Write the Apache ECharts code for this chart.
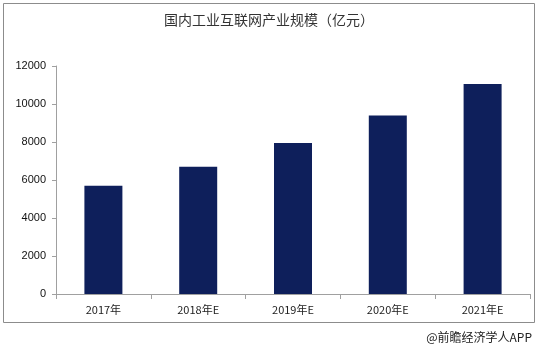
<!DOCTYPE html>
<html>
<head>
<meta charset="utf-8">
<script src="https://cdn.jsdelivr.net/npm/echarts@6/dist/echarts.min.js"></script>
<style>
  html, body { margin: 0; padding: 0; background: #fff; }
  #chart { width: 538px; height: 350px; }
</style>
</head>
<body>
<div id="chart"></div>
<script>
// 国内工业互联网产业规模（亿元）
const categories = ['2017年', '2018年E', '2019年E', '2020年E', '2021年E'];
const scaleValues = [5700, 6700, 7950, 9400, 11050];
const yTicks = { min: 0, max: 12000, interval: 2000 };

const chart = echarts.init(document.getElementById('chart'));
chart.setOption({
  backgroundColor: '#fff',
  animation: false,
  title: {
    text: '国内工业互联网产业规模（亿元）',
    left: 'center',
    top: 8,
    textStyle: {
      fontFamily: 'Noto Sans CJK SC',
      fontSize: 14,
      fontWeight: 'normal',
      color: '#333'
    }
  },
  graphic: [
    {
      type: 'rect',
      shape: { x: 3.5, y: 3.5, width: 531, height: 319 },
      style: { fill: 'none', stroke: '#8c8c8c', lineWidth: 1 },
      silent: true
    },
    {
      type: 'text',
      right: 6,
      top: 331,
      style: {
        text: '@前瞻经济学人APP',
        fontFamily: 'Noto Sans CJK SC',
        fontSize: 12,
        fill: '#222'
      }
    }
  ],
  grid: { left: 56, right: 8, top: 66, bottom: 56, containLabel: false },
  xAxis: {
    type: 'category',
    data: categories,
    axisLine: { lineStyle: { color: '#a0a0a0', width: 1 } },
    axisTick: { show: true, alignWithLabel: false, length: 5, lineStyle: { color: '#a0a0a0' } },
    axisLabel: {
      color: '#222',
      fontSize: 11,
      fontFamily: 'Noto Sans CJK SC',
      margin: 10
    }
  },
  yAxis: {
    type: 'value',
    min: yTicks.min,
    max: yTicks.max,
    interval: yTicks.interval,
    axisLine: { show: true, lineStyle: { color: '#a0a0a0', width: 1 } },
    axisTick: { show: true, length: 4, lineStyle: { color: '#a0a0a0' } },
    splitLine: { show: false },
    axisLabel: {
      color: '#111',
      fontSize: 11,
      fontFamily: 'Liberation Sans',
      margin: 10,
      formatter: (v) => String(v)
    }
  },
  series: [{
    type: 'bar',
    data: scaleValues,
    barWidth: 38,
    itemStyle: { color: '#0e1f5b' }
  }]
});
</script>
</body>
</html>
